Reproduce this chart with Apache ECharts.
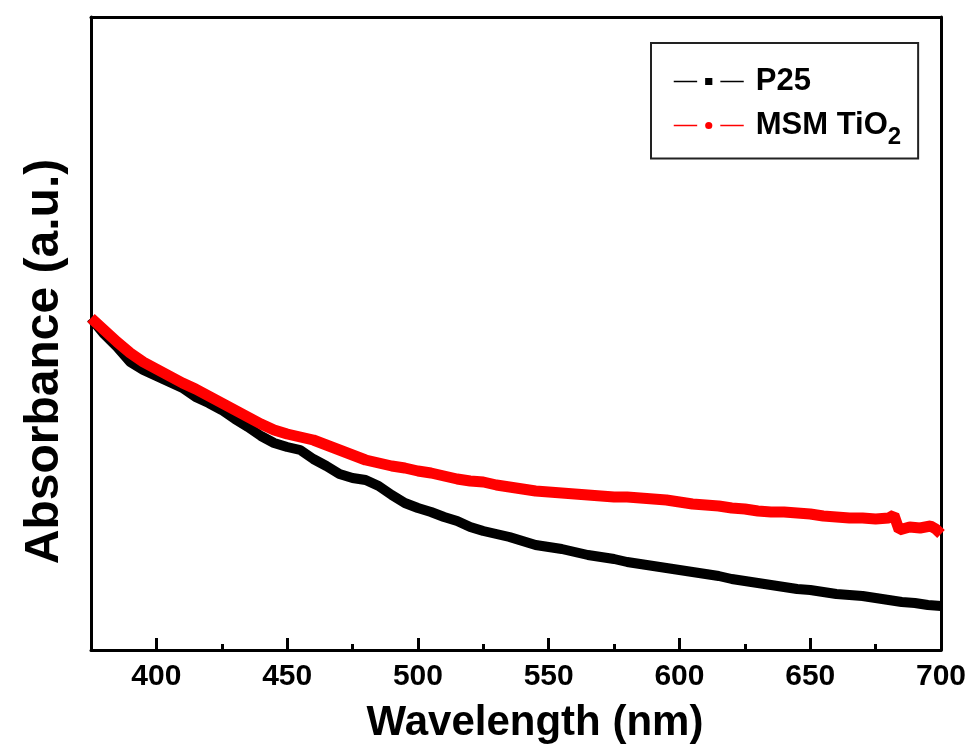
<!DOCTYPE html>
<html><head><meta charset="utf-8">
<script src="https://cdn.jsdelivr.net/npm/echarts@6/dist/echarts.min.js"></script>
<style>html,body{margin:0;padding:0;background:#fff}#c{width:979px;height:753px}</style>
</head><body><div id="c"></div>
<script>
// Wavelength (nm) and absorbance (a.u.)
const p25Wave = [375,380,385,390,395,400,405,410,415,420,425,430,435,440,445,450,455,460,465,470,475,480,485,490,495,500,505,510,515,520,525,530,535,540,545,550,555,560,565,570,575,580,585,590,595,600,605,610,615,620,625,630,635,640,645,650,655,660,665,670,675,680,685,690,695,700];
const p25Abs = [0.664,0.632,0.606,0.576,0.560,0.548,0.536,0.524,0.506,0.494,0.480,0.462,0.446,0.428,0.414,0.406,0.400,0.382,0.368,0.352,0.344,0.340,0.328,0.310,0.294,0.284,0.276,0.266,0.258,0.246,0.238,0.232,0.226,0.218,0.210,0.206,0.202,0.196,0.190,0.186,0.182,0.176,0.172,0.168,0.164,0.160,0.156,0.152,0.148,0.142,0.138,0.134,0.130,0.126,0.122,0.120,0.116,0.112,0.110,0.108,0.104,0.100,0.096,0.094,0.090,0.088];

const msmWave = [375,380,385,390,395,400,405,410,415,420,425,430,435,440,445,450,455,460,465,470,475,480,485,490,495,500,505,510,515,520,525,530,535,540,545,550,555,560,565,570,575,580,585,590,595,600,605,610,615,620,625,630,635,640,645,650,655,660,665,670,675,680,682,684,688,692,696,698,700];
const msmAbs = [0.664,0.640,0.616,0.594,0.576,0.562,0.548,0.534,0.522,0.508,0.494,0.480,0.466,0.452,0.440,0.432,0.426,0.420,0.410,0.400,0.390,0.380,0.374,0.368,0.364,0.358,0.354,0.348,0.342,0.338,0.336,0.330,0.326,0.322,0.318,0.316,0.314,0.312,0.310,0.308,0.306,0.306,0.304,0.302,0.300,0.296,0.292,0.290,0.288,0.284,0.282,0.278,0.276,0.276,0.274,0.272,0.268,0.266,0.264,0.264,0.262,0.264,0.270,0.240,0.246,0.244,0.248,0.242,0.232];

const tickLabels = [400,450,500,550,600,650,700];
const minorTicks = [425,475,525,575,625,675];
const seriesNames = ['P25','MSM TiO2'];

const font = '"Liberation Sans", Arial, Helvetica, sans-serif';
const chart = echarts.init(document.getElementById('c'));
const frameLine = {show:true,onZero:false,lineStyle:{color:'#000',width:3}};

chart.setOption({
  backgroundColor:'#fff',
  animation:false,
  grid:{left:91,right:38,top:17,bottom:103},
  legend:{
    orient:'vertical', left:651, top:43,
    padding:[23,17,9,22],
    itemGap:13, itemWidth:70, itemHeight:19,
    borderColor:'#222', borderWidth:2, borderRadius:0,
    backgroundColor:'#fff',
    lineStyle:{width:1.5},
    itemStyle:{borderColor:'#fff',borderWidth:8},
    textStyle:{fontSize:31,fontWeight:'bold',color:'#000',fontFamily:font,padding:[0,0,0,7],
      rich:{sub:{fontSize:24,fontWeight:'bold',fontFamily:font,color:'#000',padding:[24,0,0,0]}}},
    formatter: n => n === 'MSM TiO2' ? 'MSM TiO{sub|2}' : n,
    data: seriesNames
  },
  xAxis:[
    {type:'value',min:375,max:700,position:'bottom',
     name:'Wavelength (nm)',nameLocation:'middle',nameGap:52,
     nameTextStyle:{fontSize:42,fontWeight:'bold',color:'#000',fontFamily:font,padding:[0,0,0,38]},
     axisLine:frameLine,
     axisTick:{show:true,inside:true,length:12,lineStyle:{width:3,color:'#000'},customValues:tickLabels},
     axisLabel:{show:true,customValues:tickLabels,margin:12,fontSize:30,fontWeight:'bold',color:'#000',fontFamily:font},
     splitLine:{show:false}},
    {type:'value',min:375,max:700,position:'bottom',
     axisLine:{show:false,onZero:false},
     axisTick:{show:true,inside:true,length:6,lineStyle:{width:3,color:'#000'},customValues:minorTicks},
     axisLabel:{show:false},splitLine:{show:false}},
    {type:'value',min:375,max:700,position:'top',
     axisLine:frameLine,axisTick:{show:false},axisLabel:{show:false},splitLine:{show:false}}
  ],
  yAxis:[
    {type:'value',min:0,max:1.266,position:'left',
     name:'Absorbance (a.u.)',nameLocation:'middle',nameGap:22,
     nameTextStyle:{fontSize:48,fontWeight:'bold',color:'#000',fontFamily:font,padding:[0,56,0,0]},
     axisLine:frameLine,axisTick:{show:false},axisLabel:{show:false},splitLine:{show:false}},
    {type:'value',min:0,max:1.266,position:'right',
     axisLine:frameLine,axisTick:{show:false},axisLabel:{show:false},splitLine:{show:false}}
  ],
  series:[
    {name:seriesNames[0],type:'line',xAxisIndex:0,yAxisIndex:0,symbol:'rect',showSymbol:false,clip:true,
     itemStyle:{color:'#000'},lineStyle:{color:'#000',width:10},
     data:p25Wave.map((w,i)=>[w,p25Abs[i]])},
    {name:seriesNames[1],type:'line',xAxisIndex:0,yAxisIndex:0,symbol:'circle',showSymbol:false,clip:true,
     itemStyle:{color:'#ff0000'},lineStyle:{color:'#ff0000',width:11},
     data:msmWave.map((w,i)=>[w,msmAbs[i]])}
  ]
});
</script></body></html>
